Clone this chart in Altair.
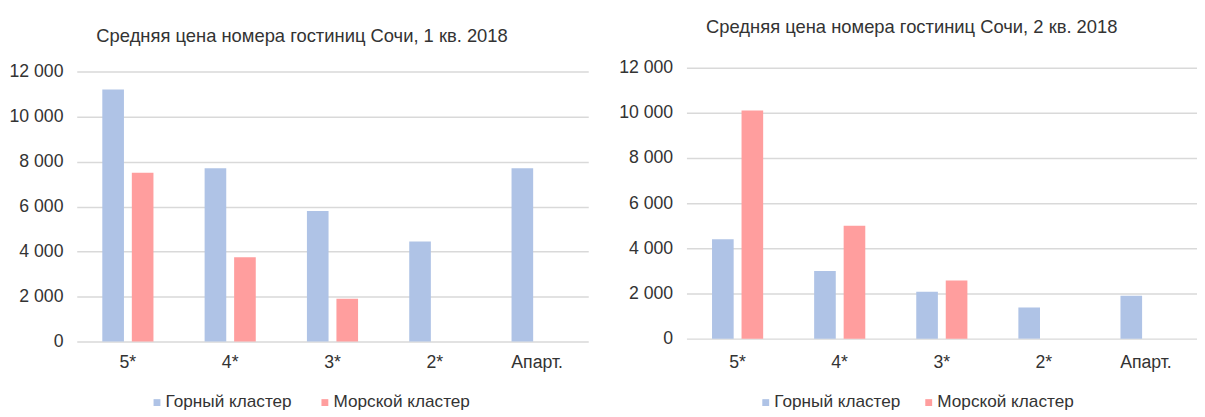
import altair as alt
import pandas as pd

categories = ["5*", "4*", "3*", "2*", "Апарт."]
series = ["Горный кластер", "Морской кластер"]
q1_mountain = [11200, 7700, 5800, 4450, 7700]
q1_sea = [7500, 3750, 1900, None, None]
q2_mountain = [4400, 3000, 2080, 1380, 1900]
q2_sea = [10100, 5000, 2570, None, None]
titles = ["Средняя цена номера гостиниц Сочи, 1 кв. 2018",
          "Средняя цена номера гостиниц Сочи, 2 кв. 2018"]
y_ticks = [0, 2000, 4000, 6000, 8000, 10000, 12000]
colors = ["#AFC3E6", "#FF9E9E"]

FONT = "Liberation Sans"
TEXT = "#333333"


def make_df(m, s):
    rows = []
    for c, a, b in zip(categories, m, s):
        rows.append({"cat": c, "series": series[0], "value": a})
        if b is not None:
            rows.append({"cat": c, "series": series[1], "value": b})
    return pd.DataFrame(rows)


def panel(df, title, width, height, xrange=None, yrange=None, title_offset=18, legend_x=73,
          col_pad=25):
    sc = dict(paddingInner=0, paddingOuter=0, domain=categories)
    if xrange is not None:
        sc["range"] = xrange
    ysc = dict(domain=[0, 12000], nice=False)
    if yrange is not None:
        ysc["range"] = yrange
    return alt.Chart(
        df,
        title=alt.Title(title, anchor="start", frame="group", dx=20, offset=title_offset,
                        fontSize=18.7, font=FONT, fontWeight="normal", color=TEXT),
    ).mark_bar().encode(
        x=alt.X("cat:N", scale=alt.Scale(**sc), sort=categories,
                axis=alt.Axis(title=None, labelAngle=0, domain=False, ticks=False, grid=False,
                              labelPadding=12, labelFontSize=18, labelFont=FONT, labelColor=TEXT)),
        xOffset=alt.XOffset("series:N", sort=series,
                            scale=alt.Scale(domain=series, paddingInner=0.267, paddingOuter=0.867)),
        y=alt.Y("value:Q", scale=alt.Scale(**ysc),
                axis=alt.Axis(values=y_ticks, title=None, domain=False, ticks=False, labelPadding=14,
                              labelExpr="replace(format(datum.value, ','), ',', ' ')",
                              gridColor="#d9d9d9", gridWidth=1.5, minExtent=69, maxExtent=69,
                              labelFontSize=18, labelFont=FONT, labelColor=TEXT)),
        color=alt.Color("series:N", scale=alt.Scale(domain=series, range=colors),
                        legend=alt.Legend(title=None, orient="none", legendX=legend_x, legendY=328,
                                          direction="horizontal", symbolType="square", symbolSize=49,
                                          symbolStrokeWidth=0, labelOffset=0, columnPadding=col_pad,
                                          labelFontSize=17.5, labelFont=FONT, labelColor=TEXT)),
    ).properties(width=width, height=height)


left = panel(make_df(q1_mountain, q1_sea), titles[0], 521, 275, title_offset=17.5)
right = panel(make_df(q2_mountain, q2_sea), titles[1], 500, 275, xrange=[0, 520],
              yrange=[272, -4], title_offset=22.5, legend_x=72, col_pad=20)

chart = alt.hconcat(left, right, spacing=30).resolve_legend(color="independent").properties(
    padding={"left": 0, "top": 6, "right": 0, "bottom": 0}
).configure_view(stroke=None)

chart.save("out.html", embed_options={"renderer": "svg", "actions": False})
